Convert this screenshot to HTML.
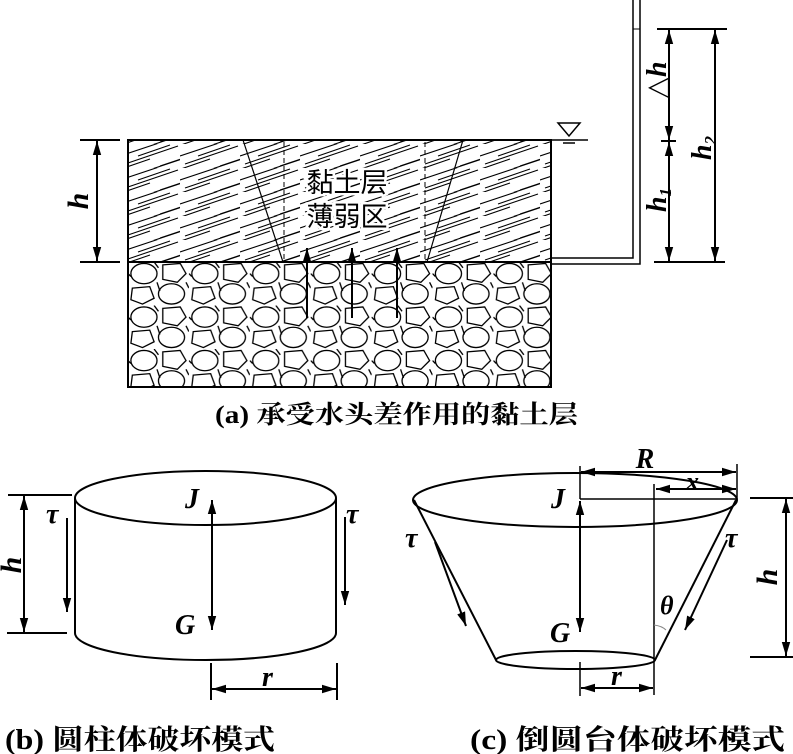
<!DOCTYPE html>
<html><head><meta charset="utf-8"><style>
html,body{margin:0;padding:0;background:#fff;}
svg{display:block;}
.cj{font-family:"Liberation Serif","Noto Serif CJK SC","Noto Sans CJK SC",serif;font-weight:bold;}
.cs{font-family:"Liberation Sans","Noto Sans CJK SC",sans-serif;}
.it{font-family:"Liberation Serif",serif;font-style:italic;font-weight:bold;}
</style></head><body>
<svg width="793" height="754" viewBox="0 0 793 754" xmlns="http://www.w3.org/2000/svg">
<defs>
<marker id="b" viewBox="0 0 10 10" refX="10" refY="5" markerWidth="14" markerHeight="14" markerUnits="userSpaceOnUse" orient="auto-start-reverse"><path d="M0,2 L10,5 L0,8 Z" fill="#000"/></marker>
<pattern id="hatch" width="60" height="24" patternUnits="userSpaceOnUse">
<g stroke="#000" stroke-width="1.1" fill="none">
<path d="M0,12 L45,-3 M5,20 L58,2 M-2,26 L30,15 M32,25 L62,15 M18,12 L50,1 M40,22 L64,14"/>
</g></pattern>
<pattern id="grav" width="42" height="30" patternUnits="userSpaceOnUse" patternTransform="translate(128,262) scale(1.45)">
<g stroke="#000" stroke-width="0.9" fill="none">
<ellipse cx="11" cy="8" rx="9" ry="7"/>
<path d="M24,2 L36,1 L40,8 L34,14 L24,12 Z"/>
<ellipse cx="30" cy="22" rx="9" ry="7"/>
<path d="M3,18 L15,17 L18,25 L10,29 L2,26 Z"/>
<path d="M20,14 L22,20 M18,0 L21,4 M40,14 L42,18 M0,8 L2,10"/>
</g></pattern>
</defs>

<!-- (a) -->
<rect x="128" y="140" width="423" height="122" fill="url(#hatch)"/>
<rect x="128" y="262" width="423" height="125" fill="url(#grav)"/>
<g stroke="#000" fill="none">
<rect x="128" y="140" width="423" height="247" stroke-width="2"/>
<line x1="128" y1="262" x2="551" y2="262" stroke-width="2"/>
<line x1="243" y1="140" x2="283" y2="262" stroke-width="1.2"/>
<line x1="463" y1="140" x2="427" y2="262" stroke-width="1.2"/>
<line x1="284" y1="142" x2="284" y2="262" stroke-dasharray="5,3"/>
<line x1="425" y1="142" x2="425" y2="262" stroke-dasharray="5,3"/>
<line x1="551" y1="140" x2="588" y2="140" stroke-width="1.5"/>
<path d="M558,123 L580,123 L569,136 Z" stroke-width="1.5"/>
<line x1="563" y1="143" x2="575" y2="143" stroke-width="1.5"/>
<path d="M551,258 H633 V0 M551,264 H640 V0" stroke-width="1.5"/>
<line x1="633" y1="29" x2="640" y2="29"/>
</g>
<text x="347" y="192" class="cs" font-size="27" text-anchor="middle" stroke="#fff" stroke-width="5" paint-order="stroke">黏土层</text>
<text x="347" y="226" class="cs" font-size="27" text-anchor="middle" stroke="#fff" stroke-width="5" paint-order="stroke">薄弱区</text>
<g stroke="#000" stroke-width="2" fill="none">
<line x1="307" y1="318" x2="307" y2="248" marker-end="url(#b)"/>
<line x1="352" y1="318" x2="352" y2="248" marker-end="url(#b)"/>
<line x1="397" y1="318" x2="397" y2="248" marker-end="url(#b)"/>
<line x1="80" y1="140" x2="120" y2="140"/>
<line x1="80" y1="262" x2="120" y2="262"/>
<line x1="97" y1="141" x2="97" y2="261" marker-start="url(#b)" marker-end="url(#b)"/>
<line x1="657" y1="29" x2="727" y2="29"/>
<line x1="654" y1="262" x2="725" y2="262"/>
<line x1="661" y1="141" x2="676" y2="141"/>
<line x1="669" y1="30" x2="669" y2="140" marker-start="url(#b)" marker-end="url(#b)"/>
<line x1="669" y1="142" x2="669" y2="261" marker-start="url(#b)" marker-end="url(#b)"/>
<line x1="715" y1="30" x2="715" y2="261" marker-start="url(#b)" marker-end="url(#b)"/>
</g>
<text class="it" font-size="30" transform="translate(88,201) rotate(-90)" text-anchor="middle">h</text>
<text class="it" font-size="28" transform="translate(666,80) rotate(-90)" text-anchor="middle"><tspan font-style="normal" font-weight="normal">△</tspan>h</text>
<text class="it" font-size="28" transform="translate(666,200) rotate(-90)" text-anchor="middle">h<tspan font-size="17" dy="5">1</tspan></text>
<text class="it" font-size="28" transform="translate(711,148) rotate(-90)" text-anchor="middle">h<tspan font-size="17" dy="5">2</tspan></text>
<text x="215" y="423" class="cj" font-size="25" textLength="363" lengthAdjust="spacingAndGlyphs">(a) 承受水头差作用的黏土层</text>

<!-- (b) -->
<g stroke="#000" stroke-width="2" fill="none">
<ellipse cx="205.5" cy="498" rx="130.5" ry="27"/>
<line x1="75" y1="498" x2="75" y2="633"/>
<line x1="336" y1="498" x2="336" y2="633"/>
<path d="M75,633 A130.5,27 0 0 0 336,633"/>
<line x1="8" y1="495" x2="72" y2="495"/>
<line x1="7" y1="633" x2="67" y2="633"/>
<line x1="24" y1="496" x2="24" y2="632" marker-start="url(#b)" marker-end="url(#b)"/>
<line x1="67" y1="518" x2="67" y2="612" marker-end="url(#b)"/>
<line x1="345" y1="517" x2="345" y2="605" marker-end="url(#b)"/>
<line x1="212" y1="500" x2="212" y2="630" marker-start="url(#b)" marker-end="url(#b)"/>
<line x1="211" y1="663" x2="211" y2="700"/>
<line x1="337" y1="663" x2="337" y2="700"/>
<line x1="212" y1="689" x2="336" y2="689" marker-start="url(#b)" marker-end="url(#b)"/>
</g>
<text class="it" font-size="28" x="46" y="523">τ</text>
<text class="it" font-size="28" x="346" y="523">τ</text>
<text class="it" font-size="28" x="185" y="508">J</text>
<text class="it" font-size="28" x="175" y="634">G</text>
<text class="it" font-size="28" x="262" y="686">r</text>
<text class="it" font-size="30" transform="translate(21,565) rotate(-90)" text-anchor="middle">h</text>
<text x="5" y="749" class="cj" font-size="28" textLength="270" lengthAdjust="spacingAndGlyphs">(b) 圆柱体破坏模式</text>

<!-- (c) -->
<g stroke="#000" stroke-width="2" fill="none">
<ellipse cx="575" cy="500" rx="162" ry="27"/>
<ellipse cx="575.5" cy="660" rx="79.5" ry="9"/>
<line x1="414" y1="500" x2="496" y2="660"/>
<line x1="736" y1="500" x2="655" y2="660"/>
<line x1="654" y1="484" x2="654" y2="695" stroke-width="1.5"/>
<line x1="580" y1="466" x2="580" y2="499" stroke-width="1.5"/>
<line x1="580" y1="499" x2="736" y2="499" stroke-width="1.5"/>
<line x1="737" y1="464" x2="737" y2="499" stroke-width="1.5"/>
<line x1="581" y1="472" x2="736" y2="472" marker-start="url(#b)" marker-end="url(#b)"/>
<line x1="656" y1="489" x2="736" y2="489" marker-start="url(#b)" marker-end="url(#b)"/>
<line x1="580" y1="501" x2="580" y2="632" marker-start="url(#b)" marker-end="url(#b)"/>
<line x1="580" y1="662" x2="580" y2="696" stroke-width="1.5"/>
<line x1="581" y1="688" x2="653" y2="688" marker-start="url(#b)" marker-end="url(#b)"/>
<line x1="435" y1="542" x2="466" y2="626" marker-end="url(#b)"/>
<line x1="727" y1="540" x2="685" y2="630" marker-end="url(#b)"/>
<line x1="750" y1="498" x2="793" y2="498"/>
<line x1="750" y1="657" x2="793" y2="657"/>
<line x1="786" y1="499" x2="786" y2="656" marker-start="url(#b)" marker-end="url(#b)"/>
<path d="M654,625 Q662,626 666,630" stroke-width="1" stroke="#888"/>
</g>
<text class="it" font-size="28" x="645" y="468" text-anchor="middle" stroke="#fff" stroke-width="4" paint-order="stroke">R</text>
<text class="it" font-size="26" x="686" y="490">x</text>
<text class="it" font-size="28" x="551" y="508">J</text>
<text class="it" font-size="28" x="550" y="642">G</text>
<text class="it" font-size="28" x="405" y="547">τ</text>
<text class="it" font-size="28" x="725" y="547">τ</text>
<text class="it" font-size="26" x="660" y="614">θ</text>
<text class="it" font-size="28" x="611" y="685">r</text>
<text class="it" font-size="30" transform="translate(777,577) rotate(-90)" text-anchor="middle">h</text>
<text x="470" y="749" class="cj" font-size="28" textLength="315" lengthAdjust="spacingAndGlyphs">(c) 倒圆台体破坏模式</text>
</svg>
</body></html>
